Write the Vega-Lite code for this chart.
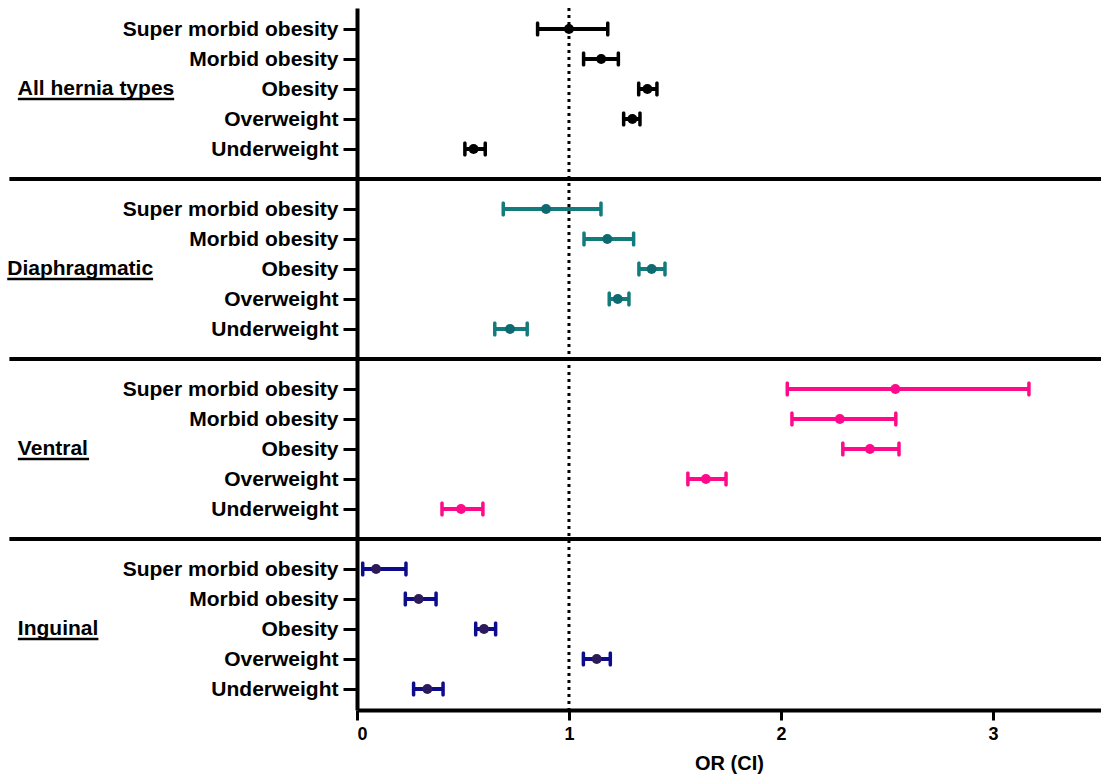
{
  "$schema": "https://vega.github.io/schema/vega-lite/v6.json",
  "width": 744,
  "height": 702,
  "autosize": {"type": "none"},
  "padding": {"left": 357, "top": 8, "right": 0, "bottom": 73},
  "background": "white",
  "config": {
    "view": {"stroke": null},
    "font": "Liberation Sans",
    "axis": {"grid": false, "domainColor": "black", "tickColor": "black", "labelColor": "black", "titleColor": "black"},
    "axisX": {
      "tickSize": 10, "tickWidth": 3, "domainWidth": 4,
      "labelFontSize": 18, "labelFontWeight": "bold", "labelPadding": 5,
      "titleFontSize": 20, "titleFontWeight": "bold", "titlePadding": 10
    },
    "axisY": {
      "domainWidth": 4, "tickSize": 14, "tickWidth": 3, "labelLimit": 0,
      "labelFontSize": 21, "labelFontWeight": "bold", "labelPadding": 5
    }
  },
  "datasets": {
    "rows": [
      {"group": "All hernia types", "cat": "Super morbid obesity", "row": "All hernia types|Super morbid obesity", "or": 1.0, "lo": 0.852, "hi": 1.183},
      {"group": "All hernia types", "cat": "Morbid obesity", "row": "All hernia types|Morbid obesity", "or": 1.152, "lo": 1.069, "hi": 1.233},
      {"group": "All hernia types", "cat": "Obesity", "row": "All hernia types|Obesity", "or": 1.37, "lo": 1.329, "hi": 1.415},
      {"group": "All hernia types", "cat": "Overweight", "row": "All hernia types|Overweight", "or": 1.299, "lo": 1.258, "hi": 1.335},
      {"group": "All hernia types", "cat": "Underweight", "row": "All hernia types|Underweight", "or": 0.55, "lo": 0.509, "hi": 0.605},
      {"group": "Diaphragmatic", "cat": "Super morbid obesity", "row": "Diaphragmatic|Super morbid obesity", "or": 0.892, "lo": 0.69, "hi": 1.151},
      {"group": "Diaphragmatic", "cat": "Morbid obesity", "row": "Diaphragmatic|Morbid obesity", "or": 1.181, "lo": 1.071, "hi": 1.305},
      {"group": "Diaphragmatic", "cat": "Obesity", "row": "Diaphragmatic|Obesity", "or": 1.39, "lo": 1.33, "hi": 1.453},
      {"group": "Diaphragmatic", "cat": "Overweight", "row": "Diaphragmatic|Overweight", "or": 1.23, "lo": 1.19, "hi": 1.283},
      {"group": "Diaphragmatic", "cat": "Underweight", "row": "Diaphragmatic|Underweight", "or": 0.722, "lo": 0.65, "hi": 0.803},
      {"group": "Ventral", "cat": "Super morbid obesity", "row": "Ventral|Super morbid obesity", "or": 2.54, "lo": 2.03, "hi": 3.17},
      {"group": "Ventral", "cat": "Morbid obesity", "row": "Ventral|Morbid obesity", "or": 2.278, "lo": 2.052, "hi": 2.542},
      {"group": "Ventral", "cat": "Obesity", "row": "Ventral|Obesity", "or": 2.42, "lo": 2.292, "hi": 2.557},
      {"group": "Ventral", "cat": "Overweight", "row": "Ventral|Overweight", "or": 1.646, "lo": 1.561, "hi": 1.741},
      {"group": "Ventral", "cat": "Underweight", "row": "Ventral|Underweight", "or": 0.491, "lo": 0.401, "hi": 0.594},
      {"group": "Inguinal", "cat": "Super morbid obesity", "row": "Inguinal|Super morbid obesity", "or": 0.09, "lo": 0.027, "hi": 0.231},
      {"group": "Inguinal", "cat": "Morbid obesity", "row": "Inguinal|Morbid obesity", "or": 0.291, "lo": 0.228, "hi": 0.373},
      {"group": "Inguinal", "cat": "Obesity", "row": "Inguinal|Obesity", "or": 0.599, "lo": 0.56, "hi": 0.654},
      {"group": "Inguinal", "cat": "Overweight", "row": "Inguinal|Overweight", "or": 1.131, "lo": 1.068, "hi": 1.195},
      {"group": "Inguinal", "cat": "Underweight", "row": "Inguinal|Underweight", "or": 0.332, "lo": 0.267, "hi": 0.406}
    ],
    "seps": [{"row": "sep1"}, {"row": "sep2"}, {"row": "sep3"}],
    "groups": [
      {"group": "All hernia types", "row": "All hernia types|Obesity"},
      {"group": "Diaphragmatic", "row": "Diaphragmatic|Obesity"},
      {"group": "Ventral", "row": "Ventral|Obesity"},
      {"group": "Inguinal", "row": "Inguinal|Obesity"}
    ]
  },
  "layer": [
    {
      "data": {"name": "rows"},
      "mark": {"type": "rule", "strokeWidth": 4},
      "encoding": {
        "x": {
          "field": "lo", "type": "quantitative", "title": "OR (CI)",
          "scale": {"domain": [0, 3.51], "nice": false, "zero": false},
          "axis": {"values": [0, 1, 2, 3], "format": "d"}
        },
        "x2": {"field": "hi"},
        "y": {
          "field": "row", "type": "nominal", "title": null,
          "scale": {
            "type": "point", "padding": 0.7,
            "domain": [
              "All hernia types|Super morbid obesity", "All hernia types|Morbid obesity", "All hernia types|Obesity", "All hernia types|Overweight", "All hernia types|Underweight",
              "sep1",
              "Diaphragmatic|Super morbid obesity", "Diaphragmatic|Morbid obesity", "Diaphragmatic|Obesity", "Diaphragmatic|Overweight", "Diaphragmatic|Underweight",
              "sep2",
              "Ventral|Super morbid obesity", "Ventral|Morbid obesity", "Ventral|Obesity", "Ventral|Overweight", "Ventral|Underweight",
              "sep3",
              "Inguinal|Super morbid obesity", "Inguinal|Morbid obesity", "Inguinal|Obesity", "Inguinal|Overweight", "Inguinal|Underweight"
            ]
          },
          "axis": {
            "values": [
              "All hernia types|Super morbid obesity", "All hernia types|Morbid obesity", "All hernia types|Obesity", "All hernia types|Overweight", "All hernia types|Underweight",
              "Diaphragmatic|Super morbid obesity", "Diaphragmatic|Morbid obesity", "Diaphragmatic|Obesity", "Diaphragmatic|Overweight", "Diaphragmatic|Underweight",
              "Ventral|Super morbid obesity", "Ventral|Morbid obesity", "Ventral|Obesity", "Ventral|Overweight", "Ventral|Underweight",
              "Inguinal|Super morbid obesity", "Inguinal|Morbid obesity", "Inguinal|Obesity", "Inguinal|Overweight", "Inguinal|Underweight"
            ],
            "labelExpr": "split(datum.label, '|')[1]"
          }
        },
        "color": {
          "field": "group", "type": "nominal", "legend": null,
          "scale": {"domain": ["All hernia types", "Diaphragmatic", "Ventral", "Inguinal"], "range": ["#000000", "#137b7b", "#ff0a8a", "#0d0d8c"]}
        }
      }
    },
    {
      "data": {"values": [{}]},
      "mark": {"type": "rule", "strokeDash": [3, 4], "strokeWidth": 3, "color": "black"},
      "encoding": {"x": {"datum": 1}}
    },
    {
      "data": {"name": "seps"},
      "mark": {"type": "rule", "strokeWidth": 4, "color": "black"},
      "encoding": {
        "x": {"datum": -1.64},
        "x2": {"datum": 3.51},
        "y": {"field": "row", "type": "nominal"}
      }
    },
    {
      "data": {"name": "groups"},
      "transform": [{"filter": "datum.group != 'Diaphragmatic'"}],
      "mark": {"type": "text", "align": "left", "baseline": "middle", "fontSize": 21, "fontWeight": "bold", "color": "black"},
      "encoding": {
        "x": {"datum": -1.6},
        "y": {"field": "row", "type": "nominal"},
        "text": {"field": "group"}
      }
    },
    {
      "data": {"name": "groups"},
      "transform": [{"filter": "datum.group == 'Diaphragmatic'"}],
      "mark": {"type": "text", "align": "left", "baseline": "middle", "fontSize": 21, "fontWeight": "bold", "color": "black"},
      "encoding": {
        "x": {"datum": -1.65},
        "y": {"field": "row", "type": "nominal"},
        "text": {"field": "group"}
      }
    },
    {
      "data": {"name": "groups"},
      "transform": [{"filter": "datum.group == 'All hernia types'"}],
      "mark": {"type": "rule", "strokeWidth": 2.5, "color": "black", "yOffset": 10},
      "encoding": {"x": {"datum": -1.6}, "x2": {"datum": -0.8625}, "y": {"field": "row", "type": "nominal"}}
    },
    {
      "data": {"name": "groups"},
      "transform": [{"filter": "datum.group == 'Diaphragmatic'"}],
      "mark": {"type": "rule", "strokeWidth": 2.5, "color": "black", "yOffset": 10},
      "encoding": {"x": {"datum": -1.65}, "x2": {"datum": -0.962}, "y": {"field": "row", "type": "nominal"}}
    },
    {
      "data": {"name": "groups"},
      "transform": [{"filter": "datum.group == 'Ventral'"}],
      "mark": {"type": "rule", "strokeWidth": 2.5, "color": "black", "yOffset": 10},
      "encoding": {"x": {"datum": -1.6}, "x2": {"datum": -1.264}, "y": {"field": "row", "type": "nominal"}}
    },
    {
      "data": {"name": "groups"},
      "transform": [{"filter": "datum.group == 'Inguinal'"}],
      "mark": {"type": "rule", "strokeWidth": 2.5, "color": "black", "yOffset": 10},
      "encoding": {"x": {"datum": -1.6}, "x2": {"datum": -1.22}, "y": {"field": "row", "type": "nominal"}}
    },
    {
      "data": {"name": "rows"},
      "mark": {"type": "tick", "thickness": 3.5, "size": 15, "cornerRadius": 1.5, "opacity": 1},
      "encoding": {
        "x": {"field": "lo", "type": "quantitative", "title": "OR (CI)"},
        "y": {"field": "row", "type": "nominal"},
        "color": {"field": "group", "type": "nominal", "legend": null}
      }
    },
    {
      "data": {"name": "rows"},
      "mark": {"type": "tick", "thickness": 3.5, "size": 15, "cornerRadius": 1.5, "opacity": 1},
      "encoding": {
        "x": {"field": "hi", "type": "quantitative", "title": "OR (CI)"},
        "y": {"field": "row", "type": "nominal"},
        "color": {"field": "group", "type": "nominal", "legend": null}
      }
    },
    {
      "data": {"name": "rows"},
      "mark": {"type": "circle", "size": 100, "opacity": 1},
      "encoding": {
        "x": {"field": "or", "type": "quantitative", "title": "OR (CI)"},
        "y": {"field": "row", "type": "nominal"},
        "fill": {
          "field": "group", "type": "nominal", "legend": null,
          "scale": {"domain": ["All hernia types", "Diaphragmatic", "Ventral", "Inguinal"], "range": ["#000000", "#0d6a70", "#ff0a8a", "#2d1a5a"]}
        }
      }
    }
  ]
}
